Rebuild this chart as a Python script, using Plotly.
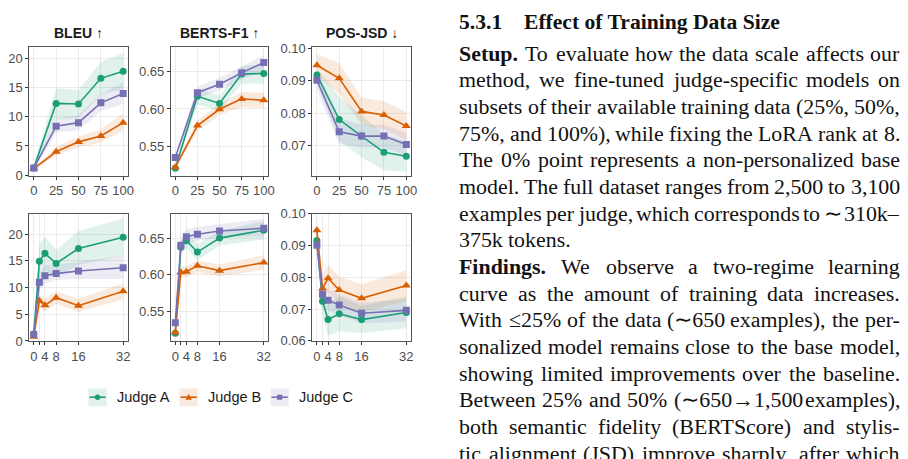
import plotly.graph_objects as go

W, H = 908, 459


def fx(p):
    return p / W


def fy(p):
    return 1 - p / H


JUDGES = ["Judge A", "Judge B", "Judge C"]

# ---------------- data ----------------
x_size = [0, 25, 50, 75, 100]          # % of training data
x_rank = [0, 2, 4, 8, 16, 32]          # LoRA rank
size_ticks = [0, 25, 50, 75, 100]
size_ticktext = ["0", "25", "50", "75", "100"]
rank_ticks = [0, 2, 4, 8, 16, 32]
rank_ticktext = ["0", "", "4", "8", "16", "32"]

panel_titles = ["BLEU", "BERTS-F1", "POS-JSD"]
panel_arrows = ["\u2191", "\u2191", "\u2193"]

bleu_size_mean = {"Judge A": [1.2, 12.3, 12.2, 16.6, 17.8],
                  "Judge B": [1.1, 4.0, 5.7, 6.7, 9.0],
                  "Judge C": [1.2, 8.4, 9.0, 12.4, 14.0]}
bleu_size_lo = {"Judge A": [0.9, 9.6, 9.8, 13.8, 14.8],
                "Judge B": [0.9, 3.3, 4.8, 5.6, 7.6],
                "Judge C": [0.9, 7.3, 7.7, 11.0, 12.2]}
bleu_size_hi = {"Judge A": [1.6, 14.9, 14.6, 19.4, 20.9],
                "Judge B": [1.3, 4.8, 6.6, 7.9, 10.6],
                "Judge C": [1.5, 9.6, 10.3, 13.9, 15.9]}

bert_size_mean = {"Judge A": [0.520, 0.617, 0.6075, 0.647, 0.648],
                  "Judge B": [0.5215, 0.5776, 0.5996, 0.6136, 0.6118],
                  "Judge C": [0.5346, 0.6219, 0.6333, 0.6487, 0.6627]}
bert_size_lo = {"Judge A": [0.517, 0.606, 0.598, 0.634, 0.634],
                "Judge B": [0.519, 0.570, 0.592, 0.603, 0.601],
                "Judge C": [0.531, 0.614, 0.625, 0.640, 0.652]}
bert_size_hi = {"Judge A": [0.524, 0.627, 0.618, 0.658, 0.660],
                "Judge B": [0.524, 0.585, 0.607, 0.623, 0.622],
                "Judge C": [0.538, 0.630, 0.642, 0.657, 0.673]}

jsd_size_mean = {"Judge A": [0.0918, 0.0781, 0.0730, 0.0680, 0.0668],
                 "Judge B": [0.0948, 0.0908, 0.0806, 0.0795, 0.0761],
                 "Judge C": [0.0902, 0.0743, 0.0730, 0.0730, 0.0704]}
jsd_size_lo = {"Judge A": [0.0895, 0.0715, 0.0665, 0.0625, 0.0620],
               "Judge B": [0.0915, 0.0860, 0.0765, 0.0750, 0.0718],
               "Judge C": [0.0870, 0.0705, 0.0695, 0.0695, 0.0670]}
jsd_size_hi = {"Judge A": [0.0940, 0.0850, 0.0795, 0.0735, 0.0715],
               "Judge B": [0.0983, 0.0955, 0.0848, 0.0838, 0.0805],
               "Judge C": [0.0935, 0.0785, 0.0765, 0.0765, 0.0740]}

bleu_rank_mean = {"Judge A": [1.3, 14.9, 16.4, 14.5, 17.3, 19.4],
                  "Judge B": [0.8, 7.5, 6.7, 8.1, 6.6, 9.3],
                  "Judge C": [1.2, 11.0, 12.2, 12.6, 13.1, 13.7]}
bleu_rank_lo = {"Judge A": [0.9, 11.5, 13.2, 12.0, 14.2, 16.0],
                "Judge B": [0.6, 6.3, 5.5, 6.9, 5.4, 7.8],
                "Judge C": [0.9, 9.6, 10.8, 11.4, 11.6, 11.6]}
bleu_rank_hi = {"Judge A": [1.7, 18.3, 19.5, 17.0, 20.6, 22.9],
                "Judge B": [1.0, 8.8, 8.0, 9.3, 7.9, 10.8],
                "Judge C": [1.5, 12.4, 14.2, 14.2, 14.8, 16.0]}

bert_rank_mean = {"Judge A": [0.5208, 0.6376, 0.6465, 0.6310, 0.6500, 0.6606],
                  "Judge B": [0.5217, 0.6035, 0.6044, 0.6124, 0.6058, 0.6168],
                  "Judge C": [0.5350, 0.6403, 0.6518, 0.6553, 0.6597, 0.6633]}
bert_rank_lo = {"Judge A": [0.518, 0.628, 0.636, 0.620, 0.640, 0.648],
                "Judge B": [0.519, 0.596, 0.597, 0.604, 0.598, 0.607],
                "Judge C": [0.532, 0.632, 0.642, 0.646, 0.651, 0.652]}
bert_rank_hi = {"Judge A": [0.524, 0.647, 0.657, 0.642, 0.660, 0.673],
                "Judge B": [0.524, 0.611, 0.612, 0.620, 0.614, 0.627],
                "Judge C": [0.538, 0.648, 0.662, 0.665, 0.669, 0.676]}

jsd_rank_mean = {"Judge A": [0.0916, 0.0725, 0.0667, 0.0685, 0.0667, 0.0689],
                 "Judge B": [0.0948, 0.0765, 0.0797, 0.0760, 0.0734, 0.0774],
                 "Judge C": [0.0901, 0.0746, 0.0728, 0.0713, 0.0687, 0.0696]}
jsd_rank_lo = {"Judge A": [0.0895, 0.0680, 0.0615, 0.0630, 0.0625, 0.0640],
               "Judge B": [0.0915, 0.0720, 0.0755, 0.0718, 0.0690, 0.0725],
               "Judge C": [0.0870, 0.0712, 0.0695, 0.0680, 0.0655, 0.0660]}
jsd_rank_hi = {"Judge A": [0.0940, 0.0770, 0.0720, 0.0740, 0.0710, 0.0740],
               "Judge B": [0.0983, 0.0810, 0.0840, 0.0802, 0.0778, 0.0822],
               "Judge C": [0.0932, 0.0780, 0.0762, 0.0746, 0.0720, 0.0732]}

bleu_ticks = [0, 5, 10, 15, 20]
bert_ticks = [0.55, 0.60, 0.65]
jsd_ticks_size = [0.07, 0.08, 0.09, 0.10]
jsd_ticks_rank = [0.06, 0.07, 0.08, 0.09, 0.10]

# paragraph text (right column)
heading_num = "5.3.1"
heading_title = "Effect of Training Data Size"
text_lines = [
    ("Setup.", "To evaluate how the data scale affects our", True),
    ("", "method, we fine-tuned judge-specific models on", True),
    ("", "subsets of their available training data (25%, 50%,", True),
    ("", "75%, and 100%), while fixing the LoRA rank at 8.", True),
    ("", "The 0% point represents a non-personalized base", True),
    ("", "model. The full dataset ranges from 2,500 to 3,100", True),
    ("", "examples per judge, which corresponds to \u223c 310k\u2013", True),
    ("", "375k tokens.", False),
    ("Findings.", "We observe a two-regime learning", True),
    ("", "curve as the amount of training data increases.", True),
    ("", "With \u226425% of the data (\u223c650 examples), the per-", True),
    ("", "sonalized model remains close to the base model,", True),
    ("", "showing limited improvements over the baseline.", True),
    ("", "Between 25% and 50% (\u223c650\u21921,500 examples),", True),
    ("", "both semantic fidelity (BERTScore) and stylis-", True),
    ("", "tic alignment (JSD) improve sharply, after which", True),
]

# ---------------- styles ----------------
COL = {"Judge A": "#1b9e77", "Judge B": "#d95f02", "Judge C": "#7570b3"}
FILL = {"Judge A": "rgba(27,158,119,0.13)", "Judge B": "rgba(217,95,2,0.13)",
        "Judge C": "rgba(117,112,179,0.13)"}
SYM = {"Judge A": "circle", "Judge B": "triangle-up", "Judge C": "square"}
MSIZE = {"Judge A": 7, "Judge B": 8, "Judge C": 7}

SANS = "Liberation Sans, Arial, sans-serif"
SERIF = "Liberation Serif, Times New Roman, serif"
TICK_FONT = dict(family=SANS, size=13, color="#4d4d4d")
BORDER = "#555555"
GRID = "#ebebeb"

xdom_px = [(29.5, 128.5), (172.0, 270.0), (314.5, 413.5)]
ydom_px = [(41.7, 174.0), (213.3, 345.0)]

panels = [
    (0, 0, x_size, bleu_size_mean, bleu_size_lo, bleu_size_hi, [-0.1, 21.9], bleu_ticks, "{:g}",
     [-5, 105], size_ticks, size_ticktext),
    (0, 1, x_size, bert_size_mean, bert_size_lo, bert_size_hi, [0.510, 0.683], bert_ticks, "{:.2f}",
     [-5, 105], size_ticks, size_ticktext),
    (0, 2, x_size, jsd_size_mean, jsd_size_lo, jsd_size_hi, [0.0608, 0.1003], jsd_ticks_size, "{:.2f}",
     [-5, 105], size_ticks, size_ticktext),
    (1, 0, x_rank, bleu_rank_mean, bleu_rank_lo, bleu_rank_hi, [-0.1, 23.8], bleu_ticks, "{:g}",
     [-1.6, 33.6], rank_ticks, rank_ticktext),
    (1, 1, x_rank, bert_rank_mean, bert_rank_lo, bert_rank_hi, [0.5096, 0.683], bert_ticks, "{:.2f}",
     [-1.6, 33.6], rank_ticks, rank_ticktext),
    (1, 2, x_rank, jsd_rank_mean, jsd_rank_lo, jsd_rank_hi, [0.0598, 0.1000], jsd_ticks_rank, "{:.2f}",
     [-1.6, 33.6], rank_ticks, rank_ticktext),
]

fig = go.Figure()
layout_axes = {}

for i, (row, col, xs, mean, lo, hi, yr, yt, yfmt, xr, xt, xtt) in enumerate(panels):
    n = "" if i == 0 else str(i + 1)
    xa, ya = "x" + n, "y" + n
    for j in JUDGES:
        fig.add_trace(go.Scatter(
            x=list(xs) + list(xs)[::-1], y=list(hi[j]) + list(lo[j])[::-1],
            xaxis=xa, yaxis=ya, mode="lines", fill="toself", fillcolor=FILL[j],
            line=dict(width=0, color=FILL[j]), hoverinfo="skip", showlegend=False))
    for j in JUDGES:
        fig.add_trace(go.Scatter(
            x=xs, y=mean[j], xaxis=xa, yaxis=ya, mode="lines+markers", name=j,
            line=dict(color=COL[j], width=1.6),
            marker=dict(symbol=SYM[j], size=MSIZE[j], color=COL[j]),
            showlegend=False))
    x0, x1 = xdom_px[col]
    y0, y1 = ydom_px[row]
    layout_axes["xaxis" + n] = dict(
        domain=[fx(x0), fx(x1)], range=xr, anchor=ya, tickvals=xt, ticktext=xtt,
        showgrid=True, gridcolor=GRID, gridwidth=1, zeroline=False,
        showline=True, mirror=True, linecolor=BORDER, linewidth=1,
        ticks="outside", ticklen=3, tickcolor="#333333", tickwidth=1,
        tickfont=TICK_FONT, fixedrange=True)
    layout_axes["yaxis" + n] = dict(
        domain=[fy(y1), fy(y0)], range=yr, anchor=xa, tickvals=yt,
        ticktext=[yfmt.format(v) for v in yt],
        showgrid=True, gridcolor=GRID, gridwidth=1, zeroline=False,
        showline=True, mirror=True, linecolor=BORDER, linewidth=1,
        ticks="outside", ticklen=3, tickcolor="#333333", tickwidth=1,
        tickfont=TICK_FONT, fixedrange=True)

annotations = []
shapes = []

# panel titles
for col, (t, arr) in enumerate(zip(panel_titles, panel_arrows)):
    x0, x1 = xdom_px[col]
    annotations.append(dict(
        x=fx((x0 + x1) / 2), y=fy(27), xref="paper", yref="paper",
        text="<b>" + t + "</b> " + arr,
        showarrow=False, xanchor="center", yanchor="middle", borderpad=0, borderwidth=0,
        font=dict(family=SANS, size=14, color="#1a1a1a")))

# legend (ggplot-style keys)
key_left = [89.0, 180.7, 272.3]
text_left = [117.3, 209.0, 300.7]
KEY = 18.4
ky0, ky1 = 393.3, 411.7
kyc = (ky0 + ky1) / 2
for j, kl, tl in zip(JUDGES, key_left, text_left):
    shapes.append(dict(type="rect", xref="paper", yref="paper", x0=fx(kl), x1=fx(kl + KEY),
                       y0=fy(ky1), y1=fy(ky0), fillcolor=FILL[j], line=dict(width=0)))
    shapes.append(dict(type="line", xref="paper", yref="paper", x0=fx(kl + 1), x1=fx(kl + KEY - 1),
                       y0=fy(kyc), y1=fy(kyc), line=dict(color=COL[j], width=1.6)))
    cx = kl + KEY / 2
    if SYM[j] == "circle":
        r = 2.8
        shapes.append(dict(type="circle", xref="paper", yref="paper", x0=fx(cx - r), x1=fx(cx + r),
                           y0=fy(kyc + r), y1=fy(kyc - r), fillcolor=COL[j], line=dict(width=0)))
    elif SYM[j] == "square":
        r = 2.6
        shapes.append(dict(type="rect", xref="paper", yref="paper", x0=fx(cx - r), x1=fx(cx + r),
                           y0=fy(kyc + r), y1=fy(kyc - r), fillcolor=COL[j], line=dict(width=0)))
    else:
        r = 3.2
        path = "M {} {} L {} {} L {} {} Z".format(
            fx(cx - r), fy(kyc + r * 0.8), fx(cx + r), fy(kyc + r * 0.8), fx(cx), fy(kyc - r * 1.1))
        shapes.append(dict(type="path", xref="paper", yref="paper", path=path,
                           fillcolor=COL[j], line=dict(width=0)))
    annotations.append(dict(
        x=fx(tl), y=fy(kyc), xref="paper", yref="paper", text=j, showarrow=False,
        xanchor="left", yanchor="middle", borderpad=0, borderwidth=0,
        font=dict(family=SANS, size=14.5, color="#1a1a1a")))

# ---------------- right-column text (justified word by word) ----------------
TR = {' ': 250, '%': 833, "'": 333, '(': 333, ')': 333, ',': 250, '-': 333, '.': 250,
      ':': 278, ';': 278, 'A': 722, 'B': 667, 'C': 667, 'D': 722, 'E': 611, 'F': 556,
      'G': 722, 'H': 722, 'I': 333, 'J': 389, 'K': 722, 'L': 611, 'M': 889, 'N': 722,
      'O': 722, 'P': 556, 'Q': 722, 'R': 667, 'S': 556, 'T': 611, 'U': 722, 'V': 722,
      'W': 944, 'X': 722, 'Y': 722, 'Z': 611, 'a': 444, 'b': 500, 'c': 444, 'd': 500,
      'e': 444, 'f': 333, 'g': 500, 'h': 500, 'i': 278, 'j': 278, 'k': 500, 'l': 278,
      'm': 778, 'n': 500, 'o': 500, 'p': 500, 'q': 500, 'r': 333, 's': 389, 't': 278,
      'u': 500, 'v': 500, 'w': 722, 'x': 500, 'y': 500, 'z': 444, '\u2013': 500,
      '\u223c': 760, '\u2264': 549, '\u2192': 838}
TB = {'S': 556, 'e': 444, 't': 333, 'u': 556, 'p': 556, '.': 250, 'F': 611, 'i': 278,
      'n': 556, 'd': 556, 'g': 500, 's': 389}
FS = 21.9
LEFT, RIGHT = 462.3, 905.5
BASE0, LEAD = 55.0, 27.5
ASC_SHIFT = 0.3375


def wwidth(word, bold=False):
    tab = TB if bold else TR
    tot = 0
    for ch in word:
        if ch.isdigit():
            tot += 500
        else:
            tot += tab.get(ch, TR.get(ch, 500))
    return tot / 1000 * FS


def add_word(x, base, word, bold=False, anchor="left", size=FS):
    annotations.append(dict(
        x=fx(x), y=fy(base - ASC_SHIFT * size), xref="paper", yref="paper",
        text=("<b>" + word + "</b>") if bold else word, showarrow=False,
        xanchor=anchor, yanchor="middle", borderpad=0, borderwidth=0,
        font=dict(family=SERIF, size=size, color="#111111")))


# heading
add_word(LEFT, 22.5, heading_num, bold=True, size=21.6)
add_word(527.7, 22.5, heading_title, bold=True, size=21.6)

for k, (bold_word, rest, just) in enumerate(text_lines):
    base = BASE0 + LEAD * k
    words = []
    if bold_word:
        words.append((bold_word, True))
    words += [(w, False) for w in rest.split(" ")]
    widths = [wwidth(w, b) for w, b in words]
    if just and len(words) > 1:
        gap = (RIGHT - LEFT - sum(widths)) / (len(words) - 1)
    else:
        gap = 0.25 * FS
    x = LEFT
    for idx, ((w, b), wd) in enumerate(zip(words, widths)):
        if just and idx == len(words) - 1 and len(words) > 1:
            add_word(RIGHT, base, w, b, anchor="right")
        else:
            add_word(x, base, w, b)
        x += wd + gap

fig.update_layout(
    width=W, height=H, margin=dict(l=0, r=0, t=0, b=0),
    paper_bgcolor="white", plot_bgcolor="white", showlegend=False,
    annotations=annotations, shapes=shapes, **layout_axes)

fig.write_html("out.html")
